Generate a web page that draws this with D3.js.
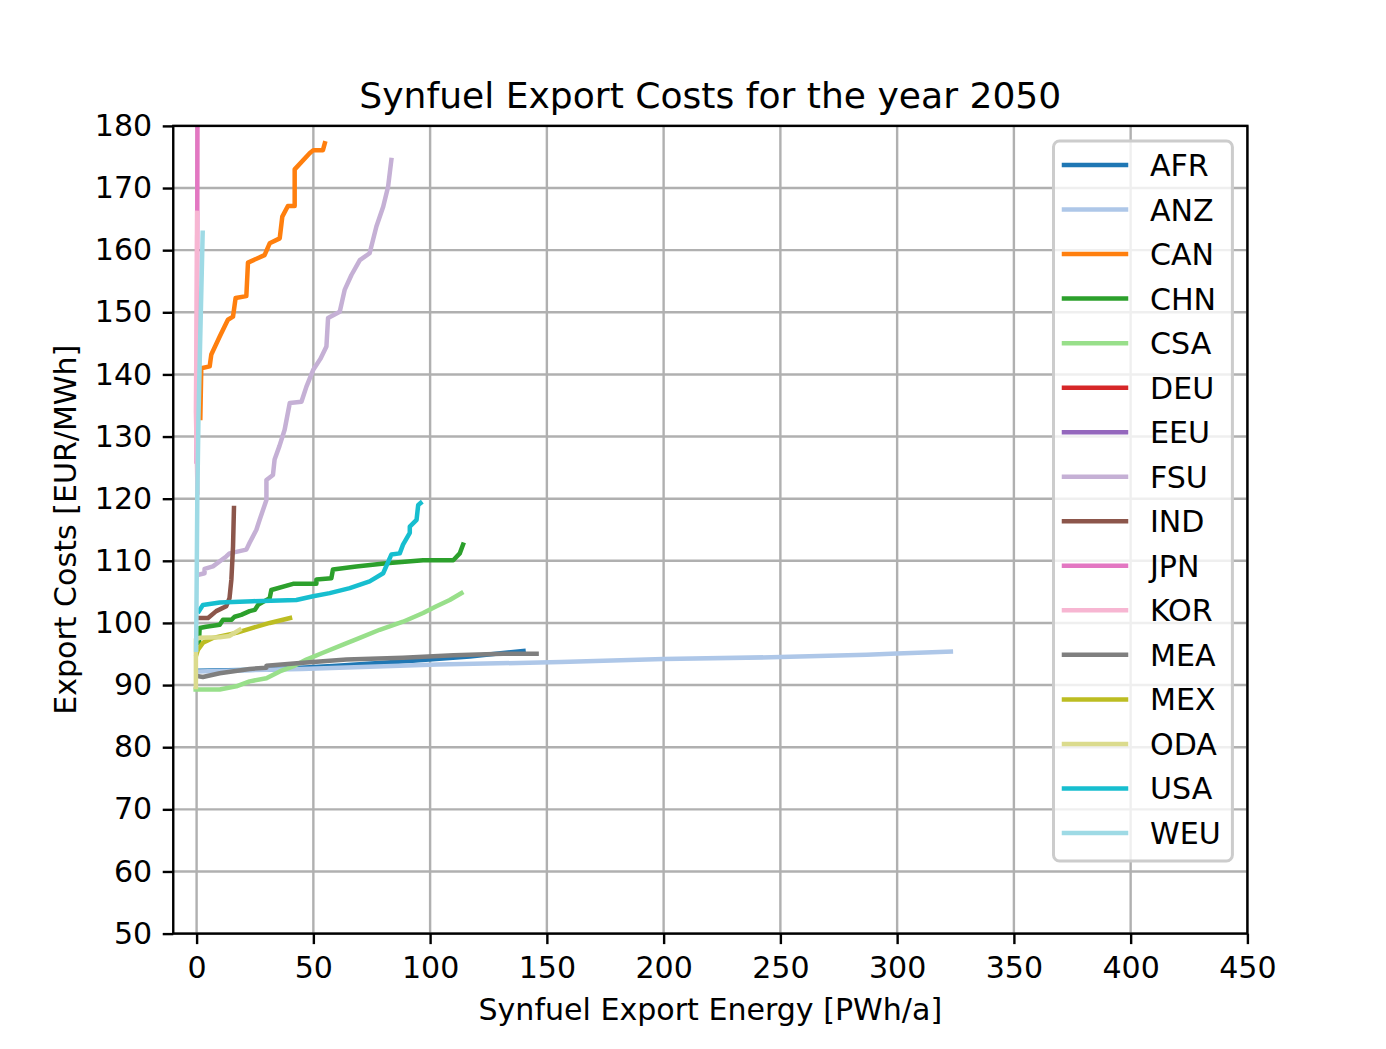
<!DOCTYPE html>
<html><head><meta charset="utf-8">
<script src="https://cdn.jsdelivr.net/npm/d3@7"></script>
<style>
html,body{margin:0;padding:0;background:#fff;}
text{font-family:"DejaVu Sans",sans-serif;}
</style></head>
<body>
<svg id="chart" width="1386" height="1049"></svg>
<script>
// ---- data (x: PWh/a, y: EUR/MWh) ----
const regions = ["AFR","ANZ","CAN","CHN","CSA","DEU","EEU","FSU","IND","JPN","KOR","MEA","MEX","ODA","USA","WEU"];
const colors = ["#1f77b4","#aec7e8","#ff7f0e","#2ca02c","#98df8a","#d62728","#9467bd","#c5b0d5","#8c564b","#e377c2","#f7b6d2","#7f7f7f","#bcbd22","#dbdb8d","#17becf","#9edae5"];
const xTicks = [0,50,100,150,200,250,300,350,400,450];
const yTicks = [50,60,70,80,90,100,110,120,130,140,150,160,170,180];

const AFR = [[1,92.3],[31,92.5],[60,93.1],[88,93.8],[117,94.6],[140,95.5]];
const ANZ = [[1,92.2],[45,92.6],[103,93.3],[156,93.7],[200,94.2],[250,94.5],[287,94.9],[300,95.1],[323,95.4]];
const CAN = [[1.6,133],[2.0,141],[5.6,141.3],[6.3,143.2],[9.9,146.1],[13.4,148.8],[15.6,149.3],[16.7,152.3],[21.3,152.6],[22,158],[29.1,159.2],[31.3,161.1],[35.6,161.9],[36.7,165.4],[39.1,167.1],[42,167.1],[42,173],[48.4,175.6],[50,176.1],[54.1,176.1],[54.9,177.2]];
const CHN = [[1,96.8],[1.3,99.2],[4.1,99.4],[9.9,99.7],[11.3,100.5],[14.9,100.5],[16.3,101.0],[19.1,101.3],[22.7,101.9],[24.9,102.1],[26.3,102.9],[31.3,104],[32,105.3],[41.3,106.3],[51.3,106.3],[51.3,107],[57.7,107.2],[58.4,108.6],[68.4,109.1],[81.3,109.6],[97,110.1],[109.9,110.1],[112.7,111.2],[114.1,112.6]];
const CSA = [[-0.4,89.3],[9.9,89.3],[17,89.8],[22.7,90.6],[29.9,91.1],[35.6,92.2],[41.3,93.0],[47,94.1],[54.1,95.2],[62.7,96.5],[69.9,97.6],[78.4,98.9],[88.4,100.2],[97,101.6],[102.7,102.7],[108.4,103.7],[113.4,104.8]];
const DEU = [];
const EEU = [];
const FSU = [[1.3,107.8],[3.4,108.0],[3.4,108.7],[7,109.1],[12.7,110.7],[14.1,111.2],[21.3,111.8],[22.7,112.9],[25.6,115],[27,116.6],[29.9,119.8],[29.9,123],[32.7,123.8],[33.4,126.3],[35.5,128.5],[37.7,131.1],[39.9,135.4],[44.9,135.6],[47,138],[49.9,140.7],[53,142.5],[55.6,144.5],[56.3,149.1],[61.3,150.1],[63.4,153.6],[66.3,156],[69.9,158.4],[74.1,159.5],[77,163.8],[79.9,167],[82,170.2],[83.4,174.5]];
const IND = [[1,100.8],[4.9,100.8],[8.4,101.9],[12.7,102.7],[14.1,104],[14.9,107],[15.6,112.3],[16,118.5]];
const JPN = [[0,126],[0.2,150],[0.4,186]];
const KOR = [[0.4,121],[-0.3,134],[0,150],[0.2,166]];
const MEA = [[1.3,91.4],[2.7,91.3],[9.9,91.9],[22.7,92.6],[29.9,92.8],[29.9,93.1],[45.6,93.6],[64.2,94.1],[88.4,94.4],[110,94.8],[131.3,95.05],[145.6,95.05]];
const MEX = [[0,95],[0.6,95.7],[2.7,96.8],[7,97.6],[17,98.4],[24,99.2],[31.3,100],[40,100.8]];
const ODA = [[-0.3,89.7],[-0.3,97.4],[1.3,97.6],[9.9,97.7],[14,97.9],[18.4,98.9]];
const USA = [[1,101.9],[2.7,102.9],[9.9,103.3],[24.1,103.5],[42.7,103.7],[49.9,104.3],[57,104.8],[65.6,105.6],[74.1,106.7],[79.9,108],[83.4,111],[87,111.2],[88.4,112.6],[91.3,114.5],[91.3,115.5],[94.2,116.6],[94.9,119],[95.9,119.3]];
const WEU = [[-0.2,95.7],[0.1,110],[0.3,120],[0.8,133],[1.5,145],[2.6,162.8]];

const seriesData = {AFR,ANZ,CAN,CHN,CSA,DEU,EEU,FSU,IND,JPN,KOR,MEA,MEX,ODA,USA,WEU};

// ---- layout ----
const W = 1386, H = 1049;
const pL = 173.25, pR = 1247.4, pT = 125.9, pB = 933.6;
const pt = W / 6.4 / 72; // px per point

const svg = d3.select("#chart");
const x = d3.scaleLinear().domain([-10, 450]).range([pL, pR]);
const y = d3.scaleLinear().domain([50, 180]).range([pB, pT]);

svg.append("defs").append("clipPath").attr("id","clip")
  .append("rect").attr("x",pL).attr("y",pT).attr("width",pR-pL).attr("height",pB-pT);

// grid
const grid = svg.append("g");
grid.selectAll(".gx").data(xTicks).join("line")
  .attr("x1",d=>x(d)).attr("x2",d=>x(d)).attr("y1",pT).attr("y2",pB)
  .attr("stroke","#b0b0b0").attr("stroke-width",0.8*pt);
grid.selectAll(".gy").data(yTicks).join("line")
  .attr("y1",d=>y(d)).attr("y2",d=>y(d)).attr("x1",pL).attr("x2",pR)
  .attr("stroke","#b0b0b0").attr("stroke-width",0.8*pt);

// lines
const line = d3.line().x(d=>x(d[0])).y(d=>y(d[1]));
const lg = svg.append("g").attr("clip-path","url(#clip)");
regions.forEach((r,i)=>{
  const d = seriesData[r];
  if (!d.length) return;
  lg.append("path").datum(d).attr("d",line)
    .attr("fill","none").attr("stroke",colors[i]).attr("stroke-width",1.5*pt)
    .attr("stroke-linejoin","round").attr("stroke-linecap","square");
});

// axes
const fs = 10*pt;
const xAxis = d3.axisBottom(x).tickValues(xTicks).tickSize(3.5*pt).tickPadding(3.5*pt+2);
const yAxis = d3.axisLeft(y).tickValues(yTicks).tickSize(3.5*pt).tickPadding(3.5*pt);
const gx = svg.append("g").attr("transform",`translate(0,${pB})`).call(xAxis);
const gy = svg.append("g").attr("transform",`translate(${pL},0)`).call(yAxis);
[gx,gy].forEach(g=>{
  g.select(".domain").remove();
  g.selectAll("line").attr("stroke","#000").attr("stroke-width",0.8*pt);
  g.selectAll("text").attr("font-size",fs).attr("fill","#000").attr("font-family","DejaVu Sans");
});

// frame
svg.append("rect").attr("x",pL).attr("y",pT).attr("width",pR-pL).attr("height",pB-pT)
  .attr("fill","none").attr("stroke","#000").attr("stroke-width",0.8*pt);

// title & labels
svg.append("text").attr("x",(pL+pR)/2).attr("y",108).attr("text-anchor","middle")
  .attr("font-size",12*pt).text("Synfuel Export Costs for the year 2050");
svg.append("text").attr("x",(pL+pR)/2).attr("y",1020).attr("text-anchor","middle")
  .attr("font-size",fs).text("Synfuel Export Energy [PWh/a]");
svg.append("text").attr("transform",`translate(76,${(pT+pB)/2}) rotate(-90)`).attr("text-anchor","middle")
  .attr("font-size",fs).text("Export Costs [EUR/MWh]");

// legend
const lgX0 = 1053.5, lgX1 = 1232.4, lgY0 = 141, lgY1 = 861;
const leg = svg.append("g");
leg.append("rect").attr("x",lgX0).attr("y",lgY0).attr("width",lgX1-lgX0).attr("height",lgY1-lgY0)
  .attr("rx",0.2*fs).attr("fill","#fff").attr("fill-opacity",0.8)
  .attr("stroke","#cccccc").attr("stroke-width",1*pt);
const rowH = (833.5-165.5)/15;
regions.forEach((r,i)=>{
  const cy = 165 + i*rowH;
  leg.append("line").attr("x1",1064).attr("x2",1126).attr("y1",cy).attr("y2",cy)
    .attr("stroke",colors[i]).attr("stroke-width",1.5*pt).attr("stroke-linecap","square");
  leg.append("text").attr("x",1150).attr("y",cy+11).attr("font-size",fs).text(r);
});
</script>
</body></html>
